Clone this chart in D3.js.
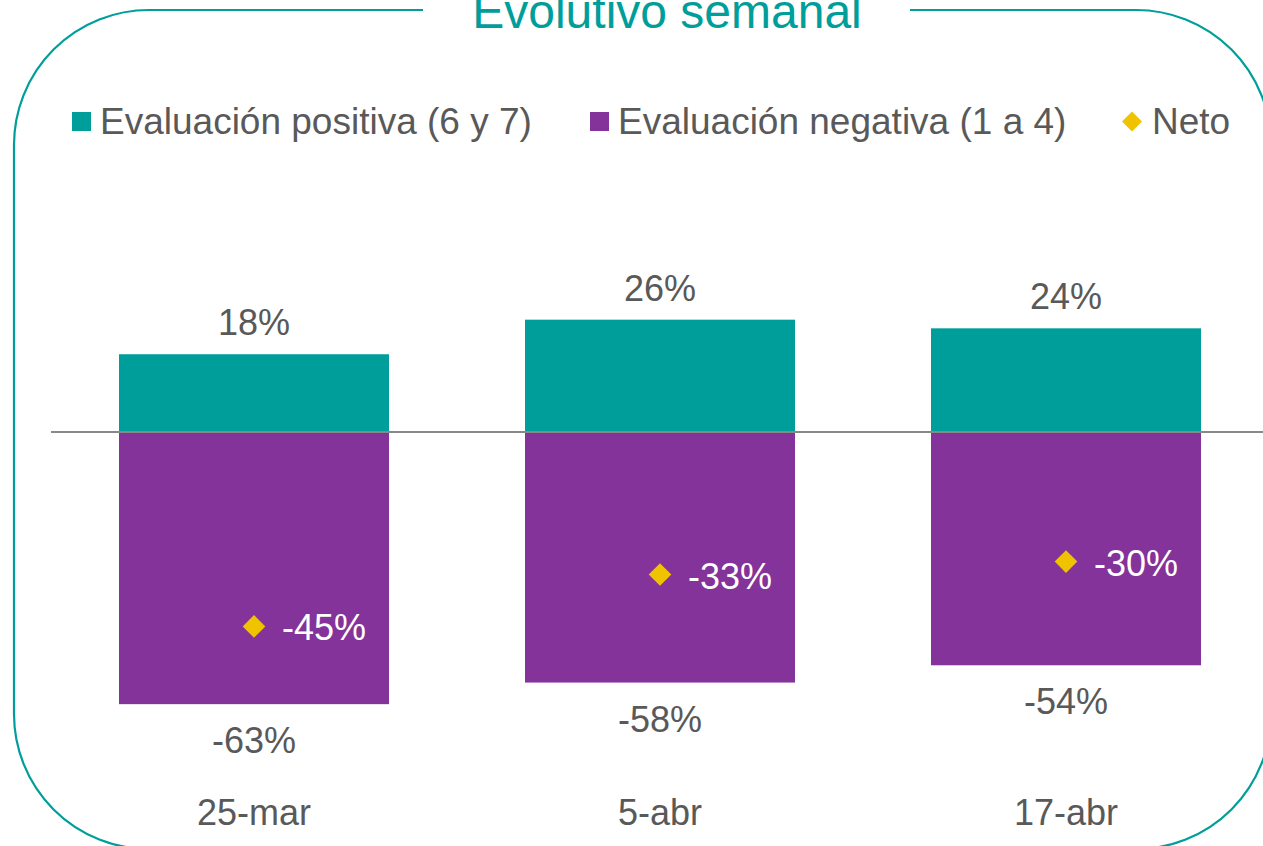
<!DOCTYPE html>
<html>
<head>
<meta charset="utf-8">
<script src="https://cdn.jsdelivr.net/npm/d3@7"></script>
<style>
  html, body { margin: 0; padding: 0; background: #fff; }
  svg { display: block; font-family: "Liberation Sans", Arial, sans-serif; }
</style>
</head>
<body>
<svg id="chart" width="1263" height="846"></svg>
<script>
const categories = ["25-mar", "5-abr", "17-abr"];
const positiveValues = [18, 26, 24];
const negativeValues = [-63, -58, -54];
const netValues = [-45, -33, -30];
const seriesNames = ["Evaluación positiva (6 y 7)", "Evaluación negativa (1 a 4)", "Neto"];
const title = "Evolutivo semanal";

const TEAL = "#009E9A";
const PURPLE = "#833399";
const GOLD = "#F0C300";
const GRAY = "#595959";

const svg = d3.select("#chart");

// Frame
svg.append("rect")
  .attr("x", 14).attr("y", 10)
  .attr("width", 1257).attr("height", 839)
  .attr("rx", 135).attr("ry", 135)
  .attr("fill", "none").attr("stroke", TEAL).attr("stroke-width", 2.2);
svg.append("rect")
  .attr("x", 423).attr("y", 3).attr("width", 487).attr("height", 14)
  .attr("fill", "#fff");
svg.append("text")
  .attr("x", 667).attr("y", 28)
  .attr("text-anchor", "middle")
  .attr("font-size", 48).attr("fill", TEAL)
  .text(title);

// Scales
const x = d3.scaleBand().domain(categories).range([51, 1269]).paddingInner(0.335).paddingOuter(0.1675);
const y = d3.scaleLinear().domain([-70, 30]).range([432 + 70 * 4.32, 432 - 30 * 4.32]);

// Bars
const g = svg.append("g");
g.selectAll("rect.pos").data(positiveValues).join("rect")
  .attr("class", "pos")
  .attr("x", (d, i) => x(categories[i]))
  .attr("width", x.bandwidth())
  .attr("y", d => y(d))
  .attr("height", d => y(0) - y(d))
  .attr("fill", TEAL);
g.selectAll("rect.neg").data(negativeValues).join("rect")
  .attr("class", "neg")
  .attr("x", (d, i) => x(categories[i]))
  .attr("width", x.bandwidth())
  .attr("y", y(0))
  .attr("height", d => y(d) - y(0))
  .attr("fill", PURPLE);

// Zero line
svg.append("line")
  .attr("x1", 51).attr("x2", 1263)
  .attr("y1", y(0)).attr("y2", y(0))
  .attr("stroke", "#888888").attr("stroke-width", 2.2);

const cx = i => x(categories[i]) + x.bandwidth() / 2;

// Labels
g.selectAll("text.pos").data(positiveValues).join("text")
  .attr("class", "pos")
  .attr("x", (d, i) => cx(i)).attr("y", d => y(d) - 19)
  .attr("text-anchor", "middle").attr("font-size", 36).attr("fill", GRAY)
  .text(d => d + "%");
g.selectAll("text.neg").data(negativeValues).join("text")
  .attr("class", "neg")
  .attr("x", (d, i) => cx(i)).attr("y", d => y(d) + 49)
  .attr("text-anchor", "middle").attr("font-size", 36).attr("fill", GRAY)
  .text(d => d + "%");

// Net diamonds
g.selectAll("path.net").data(netValues).join("path")
  .attr("class", "net")
  .attr("d", d3.symbol().type(d3.symbolSquare).size(256))
  .attr("transform", (d, i) => `translate(${cx(i)},${y(d)}) rotate(45)`)
  .attr("fill", GOLD);
g.selectAll("text.net").data(netValues).join("text")
  .attr("class", "net")
  .attr("x", (d, i) => cx(i) + 28).attr("y", d => y(d) + 14)
  .attr("font-size", 36).attr("fill", "#ffffff")
  .text(d => d + "%");

// Category axis labels
g.selectAll("text.cat").data(categories).join("text")
  .attr("class", "cat")
  .attr("x", d => x(d) + x.bandwidth() / 2).attr("y", 825)
  .attr("text-anchor", "middle").attr("font-size", 36).attr("fill", GRAY)
  .text(d => d);

// Legend
const legendX = [72, 590, 1122];
const leg = svg.append("g");
leg.append("rect").attr("x", legendX[0]).attr("y", 112).attr("width", 19).attr("height", 19).attr("fill", TEAL);
leg.append("rect").attr("x", legendX[1]).attr("y", 112).attr("width", 19).attr("height", 19).attr("fill", PURPLE);
leg.append("path")
  .attr("d", d3.symbol().type(d3.symbolSquare).size(200))
  .attr("transform", `translate(${legendX[2] + 10},121.5) rotate(45)`)
  .attr("fill", GOLD);
leg.selectAll("text").data(seriesNames).join("text")
  .attr("x", (d, i) => legendX[i] + (i === 2 ? 30 : 28))
  .attr("y", 134)
  .attr("font-size", 37).attr("fill", GRAY)
  .text(d => d);
</script>
</body>
</html>
